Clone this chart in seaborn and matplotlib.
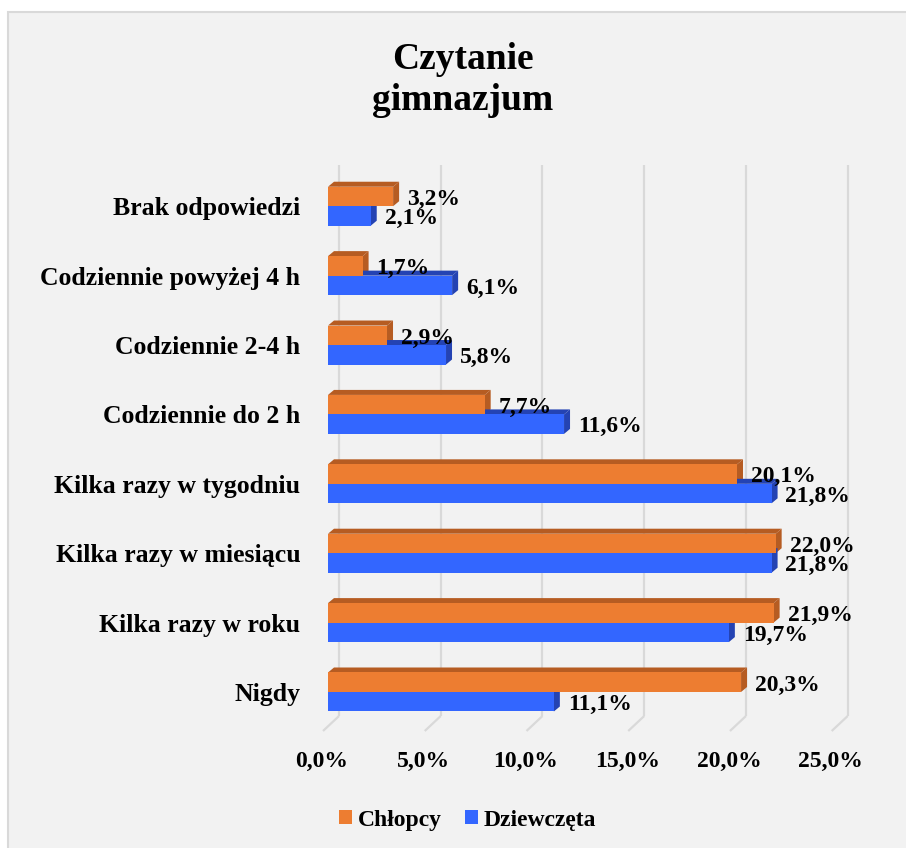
import numpy as np
import pandas as pd
import matplotlib
matplotlib.use("Agg")
import matplotlib.pyplot as plt
import seaborn as sns
from matplotlib.patches import Polygon, Rectangle
from matplotlib.transforms import ScaledTranslation

# ---------------- data ----------------
categories = ["Brak odpowiedzi", "Codziennie powyżej 4 h", "Codziennie 2-4 h",
              "Codziennie do 2 h", "Kilka razy w tygodniu", "Kilka razy w miesiącu",
              "Kilka razy w roku", "Nigdy"]
chlopcy = [3.2, 1.7, 2.9, 7.7, 20.1, 22.0, 21.9, 20.3]
dziewczeta = [2.1, 6.1, 5.8, 11.6, 21.8, 21.8, 19.7, 11.1]
series_names = ["Chłopcy", "Dziewczęta"]
x_ticks = [0, 5, 10, 15, 20, 25]
title = "Czytanie\ngimnazjum"

def pl(v):
    return f"{v:.1f}".replace(".", ",") + "%"

sns.set_theme(style="white")
plt.rcParams["font.family"] = ["Liberation Serif", "DejaVu Serif"]
plt.rcParams["font.weight"] = "bold"
plt.rcParams["text.color"] = "black"
plt.rcParams["axes.labelcolor"] = "black"
plt.rcParams["xtick.color"] = "black"
plt.rcParams["ytick.color"] = "black"

df = pd.DataFrame({
    "Kategoria": categories * 2,
    "Wartość": chlopcy + dziewczeta,
    "Grupa": [series_names[0]] * len(categories) + [series_names[1]] * len(categories),
})

W, H = 906, 848
fig = plt.figure(figsize=(W / 100, H / 100), dpi=100)
fig.patch.set_facecolor("white")
fig.patches.append(Rectangle((8 / W, -0.01), 1.0, 1 - 12 / H + 0.01,
                             transform=fig.transFigure, facecolor="#f2f2f2",
                             edgecolor="#d9d9d9", lw=1.5, zorder=-10))

ax = fig.add_axes([328 / W, 1 - 726 / H, 508.7 / W, 551 / H])
ax.set_facecolor("none")

colors = {"Chłopcy": "#ed7d31", "Dziewczęta": "#3366ff"}
dark = {"Chłopcy": "#b65c22", "Dziewczęta": "#2443b3"}

sns.barplot(data=df, y="Kategoria", x="Wartość", hue="Grupa",
            hue_order=series_names, order=categories, palette=colors,
            orient="h", width=0.562, saturation=1, ax=ax, zorder=3,
            edgecolor="none", linewidth=0)

ytop, ybot = -0.45, 7.49
ax.set_xlim(0, 25)
ax.set_ylim(ybot, ytop)
for s in ax.spines.values():
    s.set_visible(False)
ax.set_xlabel("")
ax.set_ylabel("")

# pixel -> data conversion
p0 = ax.transData.transform((0, 0))
p1 = ax.transData.transform((1, 1))
px_x = p1[0] - p0[0]
px_y = p1[1] - p0[1]

def off(dx_px, dy_px):
    return dx_px / px_x, dy_px / px_y

# back-wall gridlines and floor slants
bdx, bdy = off(11, 10)
fdx, fdy = off(-5, -5)
for t in x_ticks:
    ax.plot([t + bdx, t + bdx], [ytop + bdy, ybot + bdy], color="#d9d9d9", lw=1.6,
            zorder=0.5, clip_on=False, solid_capstyle="butt")
    ax.plot([t + bdx, t + fdx], [ybot + bdy, ybot + fdy], color="#d9d9d9", lw=1.6,
            zorder=0.5, clip_on=False, solid_capstyle="butt")

# 3D faces + labels
ddx, ddy = off(6, 5)
for cont, name in zip(ax.containers, series_names):
    for rect in cont.patches:
        x0, y0 = rect.get_x(), rect.get_y()
        w, h = rect.get_width(), rect.get_height()
        top = Polygon([(x0, y0), (x0 + w, y0), (x0 + w + ddx, y0 + ddy), (x0 + ddx, y0 + ddy)],
                      closed=True, facecolor=dark[name], edgecolor="none", zorder=2)
        side = Polygon([(x0 + w, y0), (x0 + w, y0 + h), (x0 + w + ddx, y0 + h + ddy),
                        (x0 + w + ddx, y0 + ddy)],
                       closed=True, facecolor=dark[name], edgecolor="none", zorder=2)
        ax.add_patch(top)
        ax.add_patch(side)
        ax.annotate(pl(w), xy=(x0 + w, y0 + h / 2), xytext=(10, -2),
                    textcoords="offset points", ha="left", va="center",
                    fontsize=17, fontweight="bold", color="black", zorder=6,
                    annotation_clip=False)

ax.set_xticks(x_ticks)
ax.set_xticklabels([pl(t) for t in x_ticks], fontsize=17, fontweight="bold")
ax.tick_params(axis="x", length=0, pad=18, colors="black")
ax.tick_params(axis="y", length=0, pad=20, labelsize=18.5, colors="black")
for lab in ax.get_yticklabels():
    lab.set_fontweight("bold")
for lab in ax.get_xticklabels():
    lab.set_transform(lab.get_transform() + ScaledTranslation(-0.06, 0, fig.dpi_scale_trans))

# legend
handles, labels = ax.get_legend_handles_labels()
if ax.get_legend() is not None:
    ax.get_legend().remove()
fig.legend(handles, labels, loc="center", bbox_to_anchor=(0.516, 0.033), ncol=2,
           frameon=False, handlelength=0.55, handleheight=0.55,
           handletextpad=0.25, columnspacing=1.0, prop={"weight": "bold", "size": 17})

fig.text(0.511, 0.9057, title, ha="center", va="center", fontsize=27,
         fontweight="bold", linespacing=1.2, color="black")

fig.savefig("out.png", dpi=100, facecolor=fig.get_facecolor())
